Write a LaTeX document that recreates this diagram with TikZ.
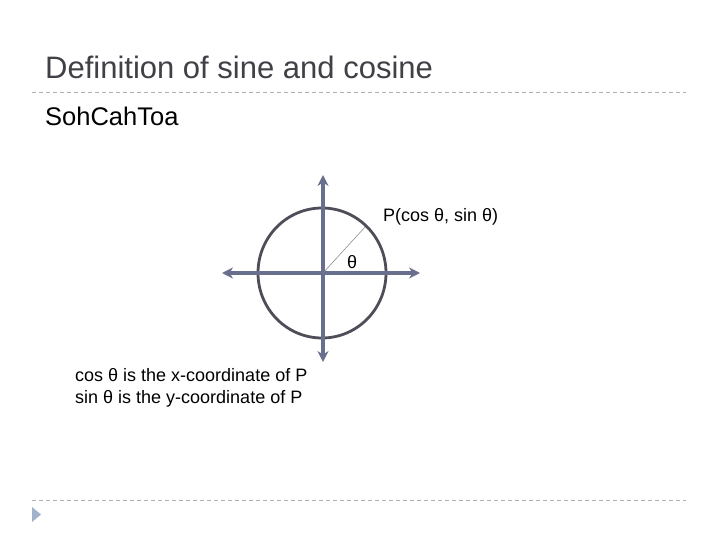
\documentclass[tikz,border=0pt]{standalone}
\usepackage{fontspec}
\setmainfont{Liberation Sans}
\usetikzlibrary{arrows.meta}
\definecolor{axiscol}{RGB}{104,112,142}
\definecolor{circcol}{RGB}{78,78,88}
\definecolor{titlecol}{RGB}{64,64,70}
\definecolor{dashcol}{RGB}{176,176,180}
\definecolor{markcol}{RGB}{160,178,204}
\tikzset{
  axis/.style={draw=axiscol, line width=3.2pt, {Stealth[length=11pt,width=11pt]}-{Stealth[length=11pt,width=11pt]}},
  sep/.style={draw=dashcol, line width=0.8pt, dash pattern=on 4pt off 3pt},
  lbl/.style={inner sep=0pt, anchor=base west, font=\fontsize{18}{22}\selectfont},
}
\begin{document}
\begin{tikzpicture}[x=1pt,y=-1pt]
\useasboundingbox (0,0) rectangle (720,540);
\fill[white] (0,0) rectangle (720,540);
% title
\node[inner sep=0pt, anchor=base west, text=titlecol, font=\fontsize{31}{36}\selectfont] (title) at (45,79) {Definition of sine and cosine};
\coordinate (s1) at (32,92); \coordinate (s2) at (686,92);
\draw[sep] (s1) -- (s2);
\node[inner sep=0pt, anchor=base west, font=\fontsize{25.5}{30}\selectfont] (soh) at (45,126) {SohCahToa};
% diagram
\coordinate (O) at (323,273);
\coordinate (L) at (222,273); \coordinate (R) at (420,273);
\coordinate (T) at (323,175); \coordinate (B) at (323,362);
\draw[circcol, line width=2.8pt] (322,273) ellipse [x radius=64, y radius=65];
\draw[axis] (L) -- (R);
\draw[axis] (T) -- (B);
\coordinate (P) at (365,227);
\draw[gray, line width=0.5pt] (O) -- (P);
\node[lbl] (plabel) at (383,222) {P(cos θ, sin θ)};
\node[lbl] (theta) at (347,268) {θ};
\node[lbl] (c1) at (75,381) {cos θ is the x-coordinate of P};
\node[lbl] (c2) at (75,403) {sin θ is the y-coordinate of P};
% footer
\coordinate (f1) at (32,500); \coordinate (f2) at (686,500);
\draw[sep] (f1) -- (f2);
\fill[markcol] (32,507) -- (41,514.5) -- (32,522) -- cycle;
\end{tikzpicture}
\end{document}
